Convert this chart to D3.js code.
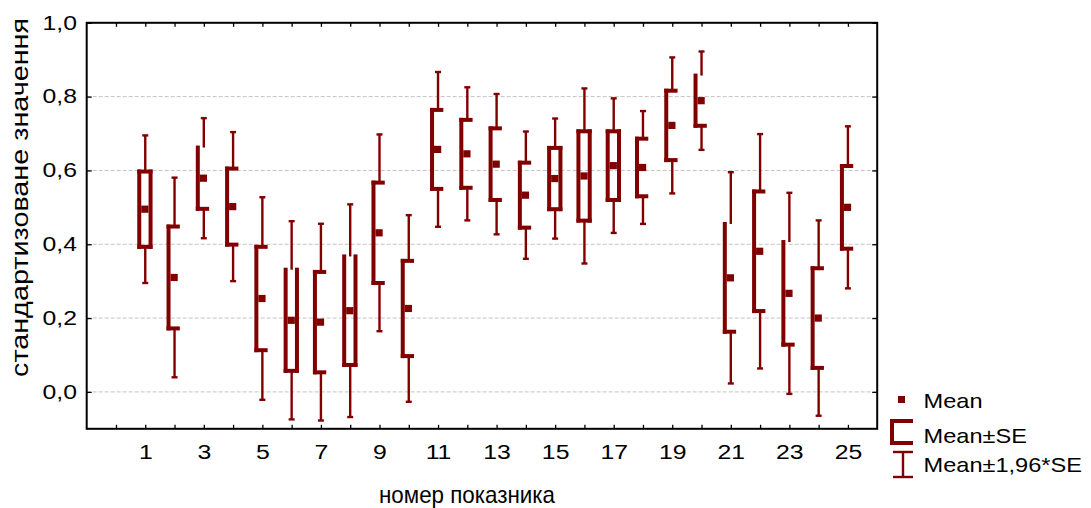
<!DOCTYPE html>
<html><head><meta charset="utf-8">
<script src="https://cdn.jsdelivr.net/npm/d3@7/dist/d3.min.js"></script>
<style>
html,body{margin:0;padding:0;background:#fff;}
svg{display:block;font-family:"Liberation Sans",Arial,sans-serif;}
</style></head>
<body>
<svg id="chart" width="1091" height="508"></svg>
<script>
// ---- data ----
const categories = d3.range(1, 26);
const means = [0.495, 0.310, 0.579, 0.502, 0.253, 0.194, 0.189, 0.220, 0.431, 0.226,
               0.657, 0.645, 0.617, 0.533, 0.578, 0.585, 0.613, 0.608, 0.722, 0.789,
               0.309, 0.381, 0.267, 0.200, 0.500];
const se    = [0.102, 0.138, 0.083, 0.103, 0.140, 0.137, 0.136, 0.147, 0.136, 0.129,
               0.107, 0.092, 0.097, 0.088, 0.083, 0.121, 0.093, 0.078, 0.094, 0.068,
               0.146, 0.162, 0.139, 0.135, 0.112];
const xTickValues = d3.range(0, 26);
const xTickLabels = xTickValues.map(v => v % 2 === 1 ? String(v) : "");
const yTickValues = [0, 0.2, 0.4, 0.6, 0.8, 1.0];
const yTickLabels = ["0,0", "0,2", "0,4", "0,6", "0,8", "1,0"];
const legendLabels = ["Mean", "Mean±SE", "Mean±1,96*SE"];
const xTitle = "номер показника";
const yTitle = "стандартизоване значення";
// rendered outline sides of each SE box (style, as in the reference picture)
const boxOutline = ["ltrb","ltb","lb","ltb","ltb","lrb","ltb","lrb","ltb","ltb",
                    "ltb","ltb","ltb","ltb","ltrb","ltrb","ltrb","ltb","ltb","lb",
                    "lb","ltb","lb","ltb","ltb"];

// ---- layout ----
const COL = "#800000";
const L = 86.7, R = 877.2, T = 22.8, B = 428.8;
const svg = d3.select("#chart");
const x = d3.scaleLinear().domain([-1, 26]).range([L, R]);
const y = d3.scaleLinear().domain([-0.1, 1.0]).range([B, T]);
const SX = 1.18; // horizontal stretch of the text in the reference

// grid
svg.append("g").selectAll("line").data(yTickValues.filter(v => v < 1))
  .join("line")
  .attr("x1", L).attr("x2", R)
  .attr("y1", d => y(d)).attr("y2", d => y(d))
  .attr("stroke", "#c4c4c4").attr("stroke-width", 1)
  .attr("stroke-dasharray", "4,2");

// axes
const yLab = d => yTickLabels[yTickValues.indexOf(d)];
const ax = svg.append("g").attr("transform", `translate(${L},0)`)
  .call(d3.axisLeft(y).tickValues(yTickValues).tickSize(-5).tickPadding(9.7 / SX).tickFormat(yLab));
ax.selectAll("text").attr("transform", `scale(${SX},1)`).attr("dy", "0.3em");
const axR = svg.append("g").attr("transform", `translate(${R},0)`)
  .call(d3.axisRight(y).tickValues(yTickValues).tickSize(-5).tickFormat(""));
const axB = svg.append("g").attr("transform", `translate(0,${B})`)
  .call(d3.axisBottom(x).tickValues(xTickValues).tickSize(-4).tickPadding(15.6)
        .tickFormat((d, i) => xTickLabels[i]));
axB.selectAll("text").attr("transform", `scale(${SX},1)`);
const axT = svg.append("g").attr("transform", `translate(0,${T})`)
  .call(d3.axisTop(x).tickValues(xTickValues).tickSize(-4).tickFormat(""));
[ax, axR, axB, axT].forEach(g => {
  g.select(".domain").remove();
  g.selectAll("line").attr("stroke", "#000").attr("stroke-width", 1.3);
  g.selectAll("text").attr("fill", "#000").style("font-size", "21px")
   .style("font-family", '"Liberation Sans",Arial,sans-serif');
});

// frame
svg.append("rect").attr("x", L).attr("y", T).attr("width", R - L).attr("height", B - T)
  .attr("fill", "none").attr("stroke", "#000").attr("stroke-width", 2);

// marks
const marks = svg.append("g");
categories.forEach((c, i) => {
  const cx = x(c), m = means[i], s = se[i], sides = boxOutline[i];
  const yt = y(m + s), yb = y(m - s);
  const yw1 = y(m + 1.96 * s), yw2 = y(m - 1.96 * s);
  const g = marks.append("g").attr("stroke", COL).attr("fill", "none");
  // whiskers
  g.append("line").attr("x1", cx).attr("x2", cx).attr("y1", yw1).attr("y2", yt).attr("stroke-width", 2.4);
  g.append("line").attr("x1", cx).attr("x2", cx).attr("y1", yb).attr("y2", yw2).attr("stroke-width", 2.4);
  [yw1, yw2].forEach(yy => g.append("line").attr("x1", cx - 3).attr("x2", cx + 3)
    .attr("y1", yy).attr("y2", yy).attr("stroke-width", 2.4));
  // SE box
  const x0 = cx - 6, x1 = sides.includes("r") ? cx + 5.3 : cx + 3.3;
  const seg = (a, b, c2, d) => g.append("line").attr("x1", a).attr("y1", b).attr("x2", c2).attr("y2", d)
    .attr("stroke-width", 4).attr("stroke-linecap", "square");
  if (sides.includes("l")) seg(x0, yt, x0, yb);
  if (sides.includes("r")) seg(x1, yt, x1, yb);
  if (sides.includes("t")) seg(x0, yt, x1, yt);
  if (sides.includes("b")) seg(x0, yb, x1, yb);
  // mean
  g.append("rect").attr("x", cx - 4).attr("y", y(m) - 3.6).attr("width", 7.2).attr("height", 7.2)
    .attr("fill", COL).attr("stroke", "none");
});

// axis titles
svg.append("text").attr("x", 467).attr("y", 503).attr("text-anchor", "middle")
  .style("font-size", "24px").attr("fill", "#000")
  .attr("textLength", 176).attr("lengthAdjust", "spacingAndGlyphs").text(xTitle);
svg.append("text").attr("transform", "translate(28,197.5) rotate(-90)").attr("text-anchor", "middle")
  .style("font-size", "23px").attr("fill", "#000")
  .attr("textLength", 359).attr("lengthAdjust", "spacingAndGlyphs").text(yTitle);

// legend
const lg = svg.append("g");
lg.append("rect").attr("x", 898).attr("y", 396).attr("width", 7).attr("height", 7).attr("fill", COL);
const lgBr = lg.append("g").attr("stroke", COL).attr("stroke-width", 4).attr("stroke-linecap", "square");
lgBr.append("line").attr("x1", 892).attr("x2", 892).attr("y1", 421).attr("y2", 443);
lgBr.append("line").attr("x1", 892).attr("x2", 911).attr("y1", 421).attr("y2", 421);
lgBr.append("line").attr("x1", 892).attr("x2", 911).attr("y1", 443).attr("y2", 443);
const lgW = lg.append("g").attr("stroke", COL).attr("stroke-width", 2.4);
lgW.append("line").attr("x1", 903).attr("x2", 903).attr("y1", 452).attr("y2", 477);
lgW.append("line").attr("x1", 893).attr("x2", 913).attr("y1", 452).attr("y2", 452);
lgW.append("line").attr("x1", 893).attr("x2", 913).attr("y1", 477).attr("y2", 477);
const baselines = [408, 442.5, 471.5];
legendLabels.forEach((t, i) => {
  lg.append("text").attr("transform", `translate(923.5,${baselines[i]}) scale(${SX},1)`)
    .style("font-size", "20px").attr("fill", "#000").text(t);
});
</script>
</body></html>
